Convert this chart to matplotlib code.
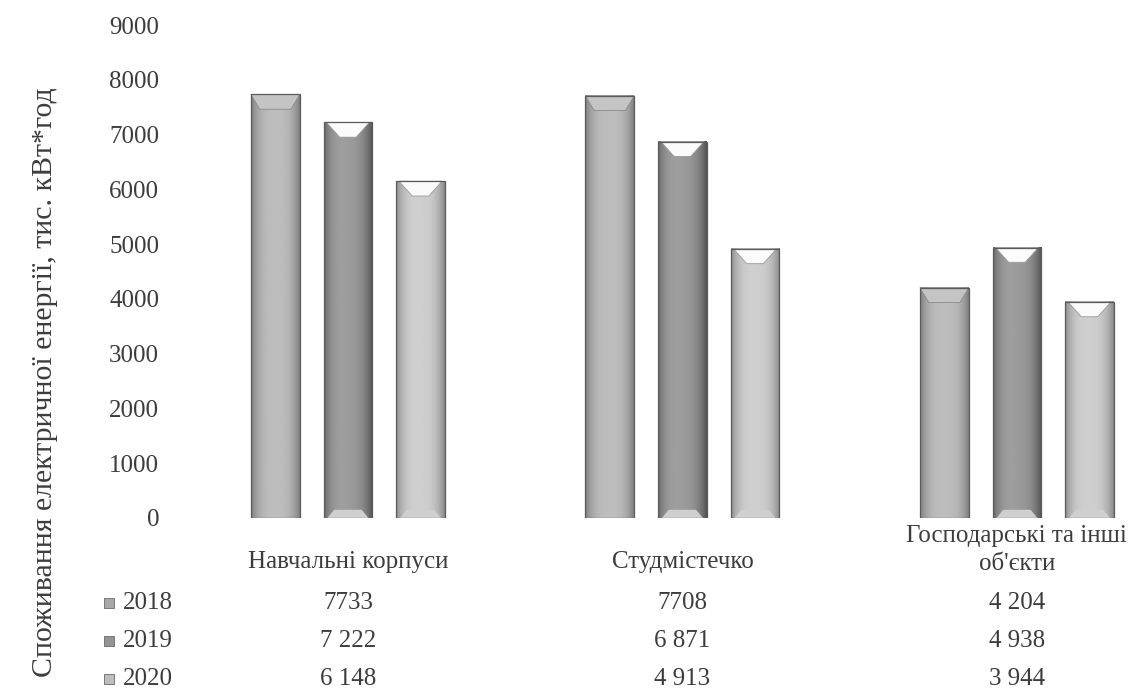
import numpy as np
import matplotlib
matplotlib.use("Agg")
import matplotlib.pyplot as plt
from matplotlib.patches import Polygon, Rectangle

categories = ["Навчальні корпуси", "Студмістечко", "Господарські та інші\nоб'єкти"]
years = ["2018", "2019", "2020"]
values_2018 = [7733, 7708, 4204]
values_2019 = [7222, 6871, 4938]
values_2020 = [6148, 4913, 3944]
table_2018 = ["7733", "7708", "4 204"]
table_2019 = ["7 222", "6 871", "4 938"]
table_2020 = ["6 148", "4 913", "3 944"]
y_label = "Споживання електричної енергії, тис. кВт*год"

plt.rcParams["font.family"] = ["Liberation Serif", "DejaVu Serif"]
text_color = "#3c3c3c"

# shading per series: (centre grey, edge grey, right-side darkening, bevel style)
series = [
    (values_2018, table_2018, 0.74, 0.50, 0.00, "flat"),
    (values_2019, table_2019, 0.66, 0.42, 0.10, "cut"),
    (values_2020, table_2020, 0.82, 0.56, 0.02, "cut"),
]

fig = plt.figure(figsize=(11.34, 6.91), dpi=100)
W, H = 1134, 691
ax_left, ax_right, ax_bottom, ax_top = 180, 1134, 518, 25
ax = fig.add_axes([ax_left / W, 1 - ax_bottom / H,
                   (ax_right - ax_left) / W, (ax_bottom - ax_top) / H])

group_x = np.arange(len(categories))
offset = 0.217
width = 0.146
ax.set_xlim(-0.502, 2.35)
ax.set_ylim(0, 9000)

t = np.linspace(-1, 1, 64)


def draw_bar(xc, value, centre, edge, skew, style):
    x0, x1 = xc - width / 2, xc + width / 2
    prof = centre - (centre - edge) * np.abs(t) ** 3 - skew * (t + 1) / 2
    img = np.tile(prof, (2, 1))
    ax.imshow(img, cmap="gray", vmin=0, vmax=1, aspect="auto",
              extent=[x0, x1, 0, value], interpolation="bilinear", zorder=2)
    ax.add_patch(Rectangle((x0, 0), width, value, fill=False,
                           edgecolor="#5a5a5a", linewidth=0.9, zorder=4))
    depth = 270
    if style == "cut":
        top = Polygon([(x0 + width * 0.06, value), (x1 - width * 0.06, value),
                       (x1 - width * 0.33, value - depth),
                       (x0 + width * 0.33, value - depth)],
                      closed=True, facecolor="#fbfbfb", edgecolor="#9a9a9a",
                      linewidth=0.6, zorder=3)
        ax.add_patch(top)
        bot = Polygon([(x0 + width * 0.08, 0), (x1 - width * 0.08, 0),
                       (x1 - width * 0.22, 150), (x0 + width * 0.22, 150)],
                      closed=True, facecolor="#cfcfcf", edgecolor="none",
                      zorder=3)
        ax.add_patch(bot)
    else:
        top = Polygon([(x0, value), (x1, value),
                       (x1 - width * 0.18, value - depth),
                       (x0 + width * 0.18, value - depth)],
                      closed=True, facecolor="#c4c4c4", edgecolor="#8a8a8a",
                      linewidth=0.6, zorder=3)
        ax.add_patch(top)


for i, (vals, _, centre, edge, skew, style) in enumerate(series):
    for g, v in zip(group_x, vals):
        draw_bar(g + (i - 1) * offset, v, centre, edge, skew, style)

ax.set_yticks(np.arange(0, 9001, 1000))
ax.set_yticklabels([str(v) for v in range(0, 9001, 1000)])
ax.set_xticks([])
ax.tick_params(axis="y", length=0, pad=15, labelsize=18, labelcolor=text_color)
for s in ax.spines.values():
    s.set_visible(False)

fig.text(45 / W, 1 - 382 / H, y_label, rotation=90, ha="center", va="center",
         fontsize=21.5, color=text_color)

# data table under the bars
span = ax_bottom - ax_top


def ay(py):
    return (ax_bottom - py) / span


trans = ax.get_xaxis_transform()
for g, cat in zip(group_x, categories):
    py = 550 if "\n" in cat else 562
    ax.text(g, ay(py), cat, transform=trans, ha="center", va="center",
            fontsize=18, color=text_color, linespacing=1.3, clip_on=False)

row_y = [603, 641, 679]
marker_x = (109 - ax_left) / (ax_right - ax_left)
year_x = (123 - ax_left) / (ax_right - ax_left)
for (vals, labels, centre, edge, skew, style), yr, py in zip(series, years, row_y):
    ax.scatter([marker_x], [ay(py)], marker="s", s=55,
               color=str(centre - 0.08), edgecolors="#6a6a6a", linewidths=0.6,
               transform=ax.transAxes, clip_on=False, zorder=5)
    ax.text(year_x, ay(py), yr, transform=ax.transAxes, ha="left", va="center",
            fontsize=18, color=text_color, clip_on=False)
    for g, lab in zip(group_x, labels):
        ax.text(g, ay(py), lab, transform=trans, ha="center", va="center",
                fontsize=18, color=text_color, clip_on=False)

fig.savefig("out.png", dpi=100)
